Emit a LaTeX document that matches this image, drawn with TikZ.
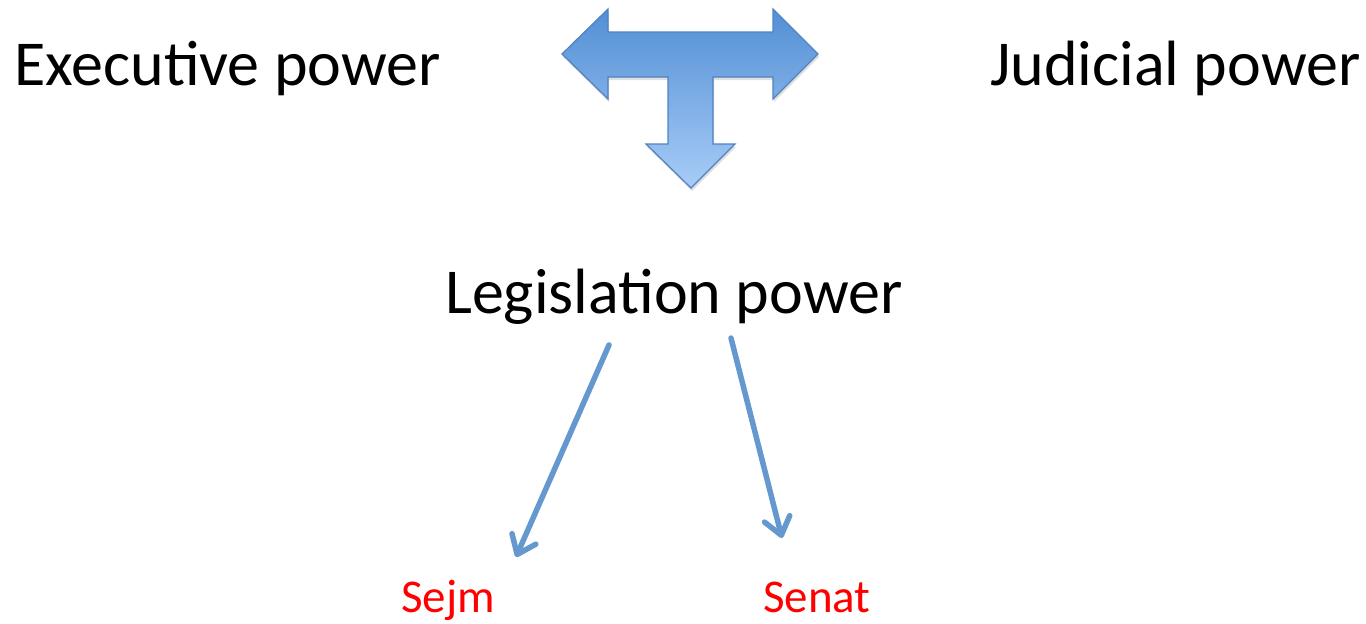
\documentclass[tikz,border=0pt]{standalone}
\usepackage{fontspec}
\setmainfont{Carlito}
\usetikzlibrary{arrows.meta,shadows}
\definecolor{tTop}{RGB}{82,143,212}
\definecolor{tBot}{RGB}{168,204,247}
\definecolor{tLine}{RGB}{80,130,195}
\definecolor{connc}{RGB}{100,152,206}
\definecolor{redtxt}{RGB}{255,0,0}
\tikzset{
  bigtxt/.style={inner sep=0pt, anchor=base west, font=\fontsize{64}{70}\selectfont},
  smalltxt/.style={inner sep=0pt, anchor=base west, text=redtxt, font=\fontsize{47}{52}\selectfont},
  conn/.style={draw=connc, line width=5.5pt, line cap=round,
    -{Straight Barb[length=17pt,width=26pt,line width=5.5pt,round]},
    drop shadow={opacity=0.2, shadow xshift=1pt, shadow yshift=-2pt}},
  tarrow/.style={draw=tLine, line width=1.2pt, top color=tTop, bottom color=tBot, line join=miter,
    drop shadow={opacity=0.25, shadow xshift=1pt, shadow yshift=-3pt}}
}
\begin{document}
\begin{tikzpicture}[x=1pt,y=-1pt]
\useasboundingbox (0,0) rectangle (1366,624);
\path[tarrow] (562,54) -- (608,9) -- (608,32) -- (773,32) -- (773,9) -- (818,54) -- (773,99) -- (773,77) -- (713,77) -- (713,144) -- (735,144) -- (691,188) -- (646,144) -- (668,144) -- (668,77) -- (608,77) -- (608,99) -- cycle;
\node[bigtxt] (exe) at (14,85) {Executive power};
\node[bigtxt] (jud) at (990,85) {Judicial power};
\node[bigtxt] (leg) at (445,313) {Legislation power};
\node[smalltxt] (sejm) at (401,612) {Sejm};
\node[smalltxt] (senat) at (763,612) {Senat};
\coordinate (a1s) at (609,345);
\coordinate (a1e) at (516,557);
\coordinate (a2s) at (731,338);
\coordinate (a2e) at (782,538);
\draw[conn] (a1s) -- (a1e);
\draw[conn] (a2s) -- (a2e);
\end{tikzpicture}
\end{document}
